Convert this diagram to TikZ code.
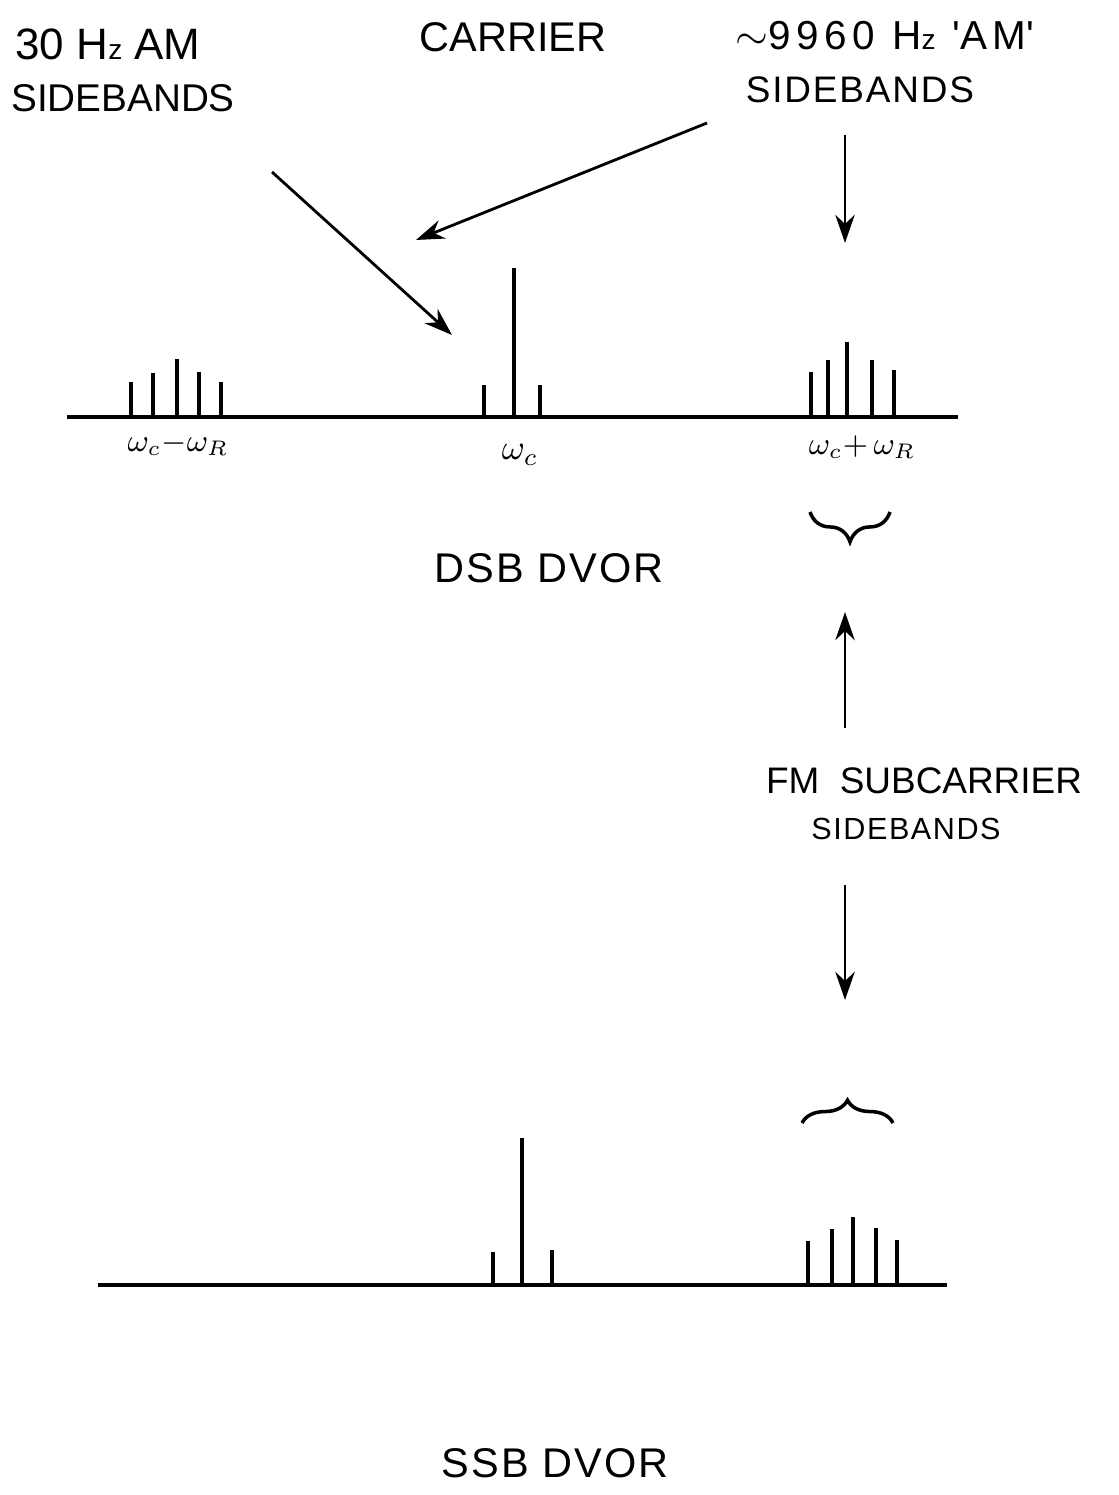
\documentclass[tikz,border=0pt]{standalone}
\usepackage{amsmath}
\usepackage{fontspec}
\usepackage{tikz}
\usetikzlibrary{arrows.meta,decorations.pathreplacing}
\newfontfamily\hand{Liberation Sans}
\newfontfamily\handwide{Liberation Sans}[LetterSpace=5]
\newfontfamily\handwider{Liberation Sans}[LetterSpace=14]
\newcommand{\hzunit}{H{\fontsize{8}{8}\selectfont z}}

\begin{document}
\begin{tikzpicture}[x=0.01cm,y=-0.01cm,
  hand/.style={font=\hand\fontsize{#1}{#1}\selectfont,inner sep=0pt},
  handw/.style={font=\handwide\fontsize{#1}{#1}\selectfont,inner sep=0pt},
  handww/.style={font=\handwider\fontsize{#1}{#1}\selectfont,inner sep=0pt},
  spike/.style={line width=1pt},
  pointer/.style={line width=0.8pt,-{Stealth[length=8pt,width=5.5pt]}},
  curly/.style={line width=1pt,decorate,decoration={brace,amplitude=#1}}]
\useasboundingbox (0,0) rectangle (1118,1495);

% labels
\node[hand=12.5] (amlo) at (108,44) {30 \hzunit\ AM};
\node[hand=11] (amsb) at (123,98) {SIDEBANDS};
\node[hand=11.8] (carr) at (513,37) {CARRIER};
\node[handww=11.5] (rfhi) at (885,36) {$\sim$9960 \hzunit\ \textquotesingle AM\textquotesingle};
\node[handw=10.5] (rfsb) at (860,90) {SIDEBANDS};
\node[handw=11.8] (dsb) at (549,568) {DSB DVOR};
\node[hand=10.5] (fmsc) at (924,781) {FM\ \ SUBCARRIER};
\node[handw=8.7] (fmsb) at (906,829) {SIDEBANDS};
\node[handw=11.8] (ssb) at (555,1463) {SSB DVOR};

% DSB spectrum
\draw[spike] (67,417) -- (958,417);
\foreach \xx/\yy in {131/382,153/373,177/359,199/372,221/382,
  484/385,514/268,540/385,811/372,828/360,847/342,872/360,894/370}
  \draw[spike] (\xx,417) -- (\xx,\yy);
\node[font=\fontsize{9}{9}\selectfont,inner sep=0pt] (lsb) at (178,444) {$\omega_c{-}\omega_R$};
\node[font=\fontsize{10}{10}\selectfont,inner sep=0pt] (wc) at (520,455) {$\omega_c$};
\node[font=\fontsize{9}{9}\selectfont,inner sep=0pt] (usb) at (862,447) {$\omega_c{+}\,\omega_R$};
\draw[curly=8.5pt] (890,512) -- (810,512);

% SSB spectrum
\draw[spike] (98,1285) -- (947,1285);
\foreach \xx/\yy in {493/1252,522/1138,552/1250,
  808/1241,832/1229,853/1217,876/1228,897/1240}
  \draw[spike] (\xx,1285) -- (\xx,\yy);
\draw[curly=6.5pt] (802,1123) -- (893,1123);

% pointers
\coordinate (p1) at (272,172); \coordinate (t1) at (452,335);
\coordinate (p2) at (707,123); \coordinate (t2) at (416,240);
\coordinate (p3) at (845,135); \coordinate (t3) at (845,243);
\coordinate (p4) at (845,728); \coordinate (t4) at (845,612);
\coordinate (p5) at (845,885); \coordinate (t5) at (845,1000);
\foreach \i in {1,...,5}
  \draw[pointer] (p\i) -- (t\i);
\end{tikzpicture}
\end{document}
